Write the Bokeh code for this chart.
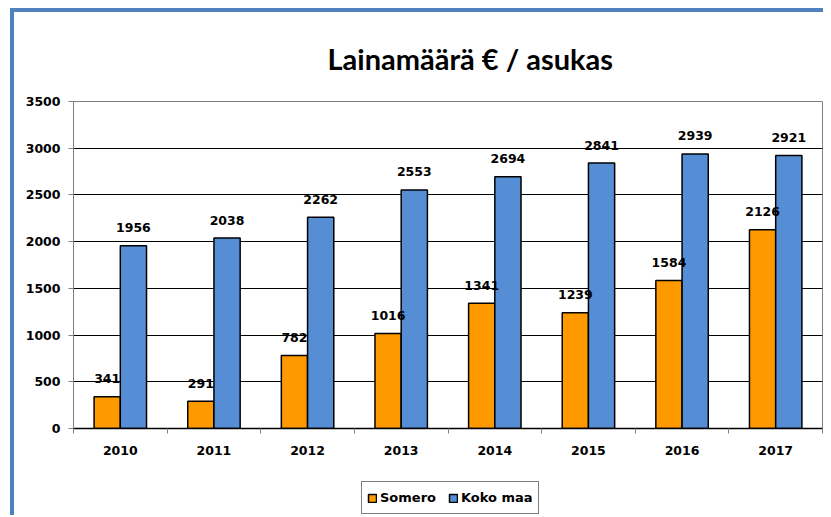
import numpy as np
from bokeh.plotting import figure
from bokeh.layouts import column
from bokeh.models import FixedTicker, Legend, LegendItem, ColumnDataSource
from bokeh.core.properties import value
from bokeh.embed import file_html
from bokeh.resources import INLINE

years = ["2010", "2011", "2012", "2013", "2014", "2015", "2016", "2017"]
somero = [341, 291, 782, 1016, 1341, 1239, 1584, 2126]
koko_maa = [1956, 2038, 2262, 2553, 2694, 2841, 2939, 2921]
y_ticks = [0, 500, 1000, 1500, 2000, 2500, 3000, 3500]
series_names = ["Somero", "Koko maa"]
colors = ["#FF9900", "#558ED5"]
title_text = "Lainamäärä € / asukas"

n = len(years)
centers = np.arange(n) + 0.5
bw = 0.28

src = ColumnDataSource(dict(
    xs=centers - bw / 2, xk=centers + bw / 2,
    somero=somero, koko=koko_maa,
    ls=[str(v) for v in somero], lk=[str(v) for v in koko_maa],
))

W = 809
p = figure(width=W, height=456, x_range=(0, n), y_range=(y_ticks[0], y_ticks[-1]),
           output_backend="svg", toolbar_location=None, title=title_text,
           min_border_left=59, min_border_right=1, min_border_top=88, min_border_bottom=40)
p.background_fill_color = "white"
p.border_fill_color = "white"
p.outline_line_color = "#808080"
p.outline_line_width = 1

p.title.text_font = "Lato"
p.title.text_font_style = "bold"
p.title.text_font_size = "29px"
p.title.text_color = "black"
p.title.align = "left"
p.title.offset = 254
p.title.standoff = 52

p.xgrid.visible = False
p.ygrid.ticker = FixedTicker(ticks=y_ticks[:-1])
p.ygrid.grid_line_color = "black"
p.ygrid.grid_line_width = 1

p.vbar(x="xs", top="somero", width=bw, source=src, fill_color=colors[0],
       line_color="black", line_width=1.5)
p.vbar(x="xk", top="koko", width=bw, source=src, fill_color=colors[1],
       line_color="black", line_width=1.5)

lab_font = value("DejaVu Sans")
for xcol, ycol, tcol in (("xs", "somero", "ls"), ("xk", "koko", "lk")):
    p.text(x=xcol, y=ycol, text=tcol, source=src, text_align="center",
           text_baseline="alphabetic", y_offset=-18, text_font=lab_font,
           text_font_style="bold", text_font_size="12.5px", text_color="black")

# y axis
ya = p.yaxis[0]
ya.ticker = FixedTicker(ticks=y_ticks)
ya.axis_line_color = "#808080"
ya.major_tick_line_color = "#808080"
ya.major_tick_out = 5
ya.major_tick_in = 0
ya.minor_tick_line_color = None
ya.major_label_text_font = "DejaVu Sans"
ya.major_label_text_font_style = "bold"
ya.major_label_text_font_size = "12.5px"
ya.major_label_text_color = "black"
ya.major_label_standoff = 8

# x axis
xa = p.xaxis[0]
xa.ticker = FixedTicker(ticks=list(centers), minor_ticks=list(range(n + 1)))
xa.major_label_overrides = {float(c): y for c, y in zip(centers, years)}
xa.axis_line_color = "black"
xa.axis_line_width = 1.5
xa.major_tick_line_color = None
xa.major_tick_out = 6
xa.major_tick_in = 0
xa.minor_tick_line_color = "#808080"
xa.minor_tick_out = 5
xa.minor_tick_in = 0
xa.major_label_text_font = "DejaVu Sans"
xa.major_label_text_font_style = "bold"
xa.major_label_text_font_size = "12.5px"
xa.major_label_text_color = "black"
xa.major_label_standoff = 11

# legend strip below the chart (hidden renderers, only their legend entries show)
pl = figure(width=W, height=47, x_range=(0, n), y_range=(y_ticks[0], y_ticks[-1]),
            output_backend="svg", toolbar_location=None,
            min_border_left=0, min_border_right=0, min_border_top=0, min_border_bottom=0)
pl.axis.visible = False
pl.grid.visible = False
pl.outline_line_color = None
pl.background_fill_color = "white"
pl.border_fill_color = "white"
lr = [pl.vbar(x=xc, top=yc, width=bw, source=src, fill_color=c, line_color="black",
              line_width=1.5, visible=False)
      for xc, yc, c in (("xs", "somero", colors[0]), ("xk", "koko", colors[1]))]
legend = Legend(items=[LegendItem(label=nm, renderers=[r]) for nm, r in zip(series_names, lr)],
                orientation="horizontal", location=(288, 1),
                border_line_color="black", border_line_width=1,
                padding=5, spacing=12, margin=0, label_standoff=3,
                glyph_width=10, glyph_height=10, label_height=21,
                label_text_font="DejaVu Sans", label_text_font_style="bold",
                label_text_font_size="13px", label_text_color="black",
                background_fill_color="white", inactive_fill_alpha=0)
pl.add_layout(legend)

layout = column(p, pl, spacing=0)
layout.styles = {"border-left": "4px solid #4F81BD", "border-top": "4px solid #4F81BD",
                 "margin-left": "10px", "margin-top": "8px"}

open("out.html", "w").write(file_html(layout, INLINE))
